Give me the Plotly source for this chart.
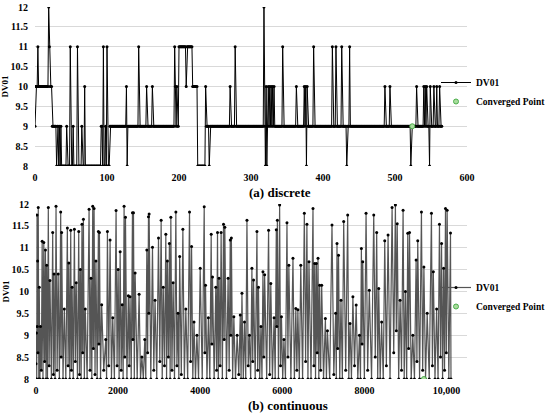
import plotly.graph_objects as go

# (a) discrete: DV01 per iteration, stored as runs (value, run length)
disc_vals = [9, 10, 11, 10, 12, 11, 10, 9,
             8, 9, 8, 9, 8, 9, 8, 9, 8, 11,
             8, 9, 8, 11, 8, 9, 8, 10, 8,
             9, 8, 11, 8, 9, 8, 11, 8,
             9, 10, 8, 9, 11, 9, 10, 9, 10, 9,
             11, 10, 9, 10, 9, 11, 10, 11, 10, 8,
             10, 9, 8, 9, 10, 9, 11, 9,
             12, 9, 8, 10, 8, 9, 10, 9, 10, 9, 10, 9, 10, 9, 10,
             9, 11, 9, 10, 9, 10, 9, 10, 8, 10, 9,
             11, 9, 11, 9, 11, 9, 11, 9, 8, 9, 11,
             9, 10, 9, 10, 9, 8, 9, 10, 9,
             10, 9, 10, 9, 10, 9, 8, 10, 9, 10, 9, 10, 9, 10, 9]
disc_lens = [1, 3, 1, 14, 1, 1, 3, 6,
             1, 2, 1, 1, 1, 1, 7, 1, 4, 1,
             3, 1, 5, 1, 5, 1, 3, 1, 22,
             2, 1, 1, 2, 1, 1, 1, 3,
             23, 1, 1, 15, 1, 10, 1, 7, 1, 30,
             1, 1, 1, 1, 2, 10, 1, 8, 7, 11,
             1, 4, 1, 28, 1, 6, 1, 39,
             1, 1, 1, 1, 1, 1, 1, 1, 1, 1, 1, 1, 1, 1, 1,
             11, 1, 18, 1, 10, 1, 1, 1, 1, 1, 8,
             1, 25, 1, 4, 1, 7, 1, 6, 1, 3, 1,
             48, 1, 6, 1, 28, 1, 7, 1, 9,
             1, 1, 1, 1, 1, 3, 1, 1, 4, 1, 3, 1, 3, 1, 3]
disc_conv_x = [524]
disc_conv_y = [9]

# (b) continuous: DV01 over ~10,000 iterations (peaks and troughs)
cont_x = [0, 10, 18, 25, 32, 40, 48, 55, 68, 80,
          95, 110, 130, 150, 170, 190, 210, 230, 245, 260,
          280, 300, 320, 340, 375, 407, 425, 440, 465, 488,
          515, 540, 570, 602, 612, 625, 658, 690, 727, 764,
          782, 800, 823, 846, 863, 880, 908, 935, 958, 980,
          1010, 1041, 1060, 1080, 1100, 1120, 1138, 1155, 1178, 1200,
          1246, 1293, 1316, 1340, 1360, 1382, 1398, 1415, 1438, 1460,
          1490, 1520, 1532, 1545, 1572, 1600, 1650, 1700, 1720, 1740,
          1772, 1805, 1838, 1870, 1910, 1951, 1975, 2000, 2025, 2050,
          2075, 2100, 2123, 2146, 2163, 2180, 2215, 2250, 2270, 2290,
          2320, 2350, 2362, 2375, 2395, 2415, 2465, 2512, 2546, 2580,
          2615, 2650, 2675, 2700, 2720, 2740, 2748, 2756, 2797, 2838,
          2870, 2900, 2942, 2984, 3016, 3049, 3075, 3100, 3130, 3163,
          3181, 3200, 3225, 3250, 3268, 3285, 3312, 3340, 3374, 3407,
          3433, 3460, 3480, 3500, 3540, 3578, 3614, 3650, 3695, 3740,
          3765, 3790, 3820, 3850, 3885, 3920, 3960, 4000, 4050, 4098,
          4114, 4130, 4165, 4200, 4234, 4268, 4284, 4300, 4340, 4380,
          4400, 4422, 4441, 4460, 4485, 4510, 4540, 4568, 4584, 4600,
          4640, 4680, 4706, 4732, 4746, 4760, 4790, 4820, 4860, 4900,
          4940, 4976, 4996, 5017, 5050, 5080, 5110, 5139, 5170, 5200,
          5230, 5260, 5280, 5300, 5340, 5383, 5400, 5420, 5450, 5480,
          5505, 5529, 5550, 5570, 5620, 5666, 5693, 5720, 5760, 5800,
          5827, 5854, 5867, 5880, 5907, 5935, 5957, 5980, 6010, 6040,
          6077, 6114, 6137, 6160, 6210, 6260, 6295, 6330, 6355, 6380,
          6415, 6450, 6495, 6537, 6568, 6600, 6625, 6650, 6700, 6748,
          6770, 6790, 6810, 6830, 6850, 6870, 6890, 6910, 6935, 6960,
          7005, 7050, 7075, 7100, 7155, 7211, 7255, 7300, 7316, 7333,
          7350, 7370, 7400, 7430, 7463, 7496, 7545, 7593, 7620, 7650,
          7685, 7720, 7760, 7800, 7840, 7880, 7905, 7927, 7943, 7960,
          8000, 8041, 8080, 8120, 8175, 8228, 8265, 8300, 8325, 8350,
          8385, 8420, 8460, 8496, 8536, 8577, 8625, 8675, 8715, 8756,
          8778, 8800, 8835, 8870, 8905, 8943, 8970, 9000, 9030, 9057,
          9078, 9100, 9140, 9180, 9220, 9260, 9280, 9300, 9345, 9390,
          9420, 9450, 9490, 9530, 9580, 9634, 9657, 9680, 9720, 9760,
          9795, 9829, 9855, 9880, 9905, 9930, 9953, 9976, 9996, 10016,
          10057, 10098, 10110]
cont_y = [8.35, 9.05, 8.0, 11.75, 9.2, 10.7, 8.6, 11.92, 8.0, 10.1,
          8.0, 9.2, 8.2, 11.15, 8.0, 11.12, 8.4, 10.95, 8.0, 10.6,
          8.0, 11.92, 8.3, 10.25, 8.0, 11.35, 8.1, 10.4, 8.0, 11.95,
          8.2, 10.4, 8.0, 11.82, 8.5, 11.35, 8.0, 9.6, 8.0, 11.45,
          8.3, 10.65, 8.0, 11.4, 8.2, 10.1, 8.0, 11.42, 8.4, 10.2,
          8.0, 11.37, 8.1, 10.5, 8.0, 11.54, 8.6, 11.65, 8.0, 9.6,
          8.0, 11.88, 8.2, 10.3, 8.0, 11.95, 8.7, 11.9, 8.1, 10.7,
          8.0, 11.37, 8.8, 11.35, 8.0, 9.7, 8.2, 8.9, 8.0, 11.37,
          8.3, 11.18, 8.0, 9.4, 8.0, 11.85, 8.3, 10.5, 8.0, 10.91,
          8.2, 9.7, 8.0, 11.95, 8.5, 11.7, 8.0, 9.9, 8.3, 9.88,
          8.0, 11.8, 8.9, 11.8, 8.0, 10.42, 8.0, 9.94, 8.0, 8.5,
          8.0, 8.9, 8.0, 10.95, 8.6, 11.71, 9.5, 11.77, 8.0, 11.01,
          8.2, 9.8, 8.0, 11.22, 8.4, 11.63, 8.0, 10.1, 8.3, 11.31,
          8.0, 10.7, 8.5, 11.1, 8.0, 11.7, 8.2, 10.2, 8.0, 11.82,
          8.3, 9.5, 8.0, 10.8, 8.1, 11.42, 8.0, 9.6, 8.0, 11.82,
          8.4, 11.03, 8.0, 9.3, 8.0, 9.0, 8.0, 10.53, 8.0, 11.94,
          8.6, 10.14, 8.0, 9.4, 8.0, 11.31, 8.8, 10.33, 8.0, 10.1,
          8.2, 11.35, 8.0, 10.3, 8.3, 11.35, 8.0, 11.54, 8.9, 11.47,
          8.0, 10.3, 8.2, 11.18, 9.0, 11.22, 8.0, 9.42, 8.0, 9.0,
          8.1, 9.46, 8.0, 9.96, 8.0, 9.3, 8.0, 11.63, 8.3, 9.0,
          8.0, 10.53, 8.4, 10.26, 8.0, 11.37, 8.2, 10.1, 8.0, 9.2,
          8.0, 10.45, 8.5, 10.38, 8.0, 11.4, 8.1, 10.18, 8.0, 9.4,
          8.0, 11.41, 9.2, 11.63, 8.0, 11.98, 8.3, 9.42, 8.0, 8.9,
          8.0, 11.57, 8.5, 10.6, 8.0, 10.76, 8.0, 9.61, 8.2, 9.58,
          8.0, 10.6, 8.0, 11.79, 8.4, 11.54, 8.0, 10.68, 8.0, 11.9,
          8.3, 10.64, 8.0, 10.64, 8.6, 10.76, 8.0, 10.14, 8.2, 10.14,
          8.0, 9.38, 8.0, 9.1, 8.0, 11.52, 8.1, 9.5, 8.0, 11.1,
          8.7, 10.83, 8.0, 9.8, 8.0, 11.6, 8.2, 11.75, 8.0, 9.27,
          8.0, 9.88, 8.3, 9.69, 8.0, 9.0, 8.0, 10.98, 8.8, 10.68,
          8.0, 11.79, 8.2, 10.03, 8.0, 11.75, 8.5, 11.35, 8.0, 10.07,
          8.0, 9.3, 8.0, 11.16, 8.3, 11.29, 8.0, 11.92, 8.6, 11.98,
          9.1, 11.55, 8.0, 9.8, 8.2, 11.86, 8.0, 10.0, 8.0, 11.33,
          8.7, 11.35, 8.0, 9.0, 8.0, 10.72, 8.4, 11.16, 8.0, 11.82,
          8.2, 10.56, 8.0, 9.5, 8.0, 11.79, 8.3, 10.45, 8.0, 9.6,
          8.0, 11.54, 8.5, 11.1, 8.0, 10.53, 8.2, 11.9, 8.6, 11.86,
          8.0, 11.34, 8.0]
cont_conv_x = [9450]
cont_conv_y = [8]

cont_ticks = [0, 2000, 4000, 6000, 8000, 10000]
cont_ticktext = ["0", "2000", "4000", "6000", "8000", "10,000"]

# expand the runs into one value per iteration
disc_y = []
for v, n in zip(disc_vals, disc_lens):
    disc_y += [v] * n
disc_x = list(range(len(disc_y)))

FONT = "Liberation Serif"
GREEN_FILL = "#a8dc9c"
GREEN_EDGE = "#4cae4c"

fig = go.Figure()

fig.add_trace(go.Scatter(
    x=disc_x, y=disc_y, mode="lines+markers", name="DV01",
    line=dict(color="black", width=1), marker=dict(color="black", size=3),
    xaxis="x", yaxis="y", legend="legend"
))
fig.add_trace(go.Scatter(
    x=disc_conv_x, y=disc_conv_y, mode="markers", name="Converged Point",
    marker=dict(color=GREEN_FILL, size=5, line=dict(color=GREEN_EDGE, width=1)),
    xaxis="x", yaxis="y", legend="legend"
))
fig.add_trace(go.Scatter(
    x=cont_x, y=cont_y, mode="lines+markers", name="DV01",
    line=dict(color="#555555", width=1.2), marker=dict(color="black", size=3),
    xaxis="x2", yaxis="y2", legend="legend2"
))
fig.add_trace(go.Scatter(
    x=cont_conv_x, y=cont_conv_y, mode="markers", name="Converged Point",
    marker=dict(color=GREEN_FILL, size=5, line=dict(color=GREEN_EDGE, width=1)),
    xaxis="x2", yaxis="y2", legend="legend2"
))

tick_font = dict(family=FONT, size=10, color="black", weight="bold")
legend_font = dict(family=FONT, size=9.5, color="black", weight="bold")
grid = "#d9d9d9"

yax = dict(
    range=[8, 12], dtick=0.5, showgrid=True, gridcolor=grid, zeroline=False,
    showline=False, tickfont=tick_font, ticklabelstandoff=6, automargin=False,
    title=dict(text="DV01", font=dict(family=FONT, size=9, color="black", weight="bold"), standoff=0),
)
xax = dict(showgrid=False, zeroline=False, showline=False, tickfont=tick_font,
           ticklabelstandoff=4, automargin=False)

fig.update_layout(
    width=550, height=415,
    margin=dict(l=0, r=0, t=0, b=0, autoexpand=False),
    plot_bgcolor="white", paper_bgcolor="white",
    xaxis=dict(domain=[35 / 550, 467 / 550], range=[0, 600], dtick=100, anchor="y", **xax),
    yaxis=dict(domain=[1 - 166 / 415, 1 - 7 / 415], anchor="x", **yax),
    xaxis2=dict(domain=[36 / 550, 467 / 550], range=[0, 10500],
                tickvals=cont_ticks, ticktext=cont_ticktext, anchor="y2", **xax),
    yaxis2=dict(domain=[1 - 379 / 415, 1 - 204 / 415], anchor="x2", **yax),
    legend=dict(x=436 / 550, y=1 - 92 / 415, xanchor="left", yanchor="middle",
                bgcolor="rgba(0,0,0,0)", itemwidth=30, font=legend_font),
    legend2=dict(x=436 / 550, y=1 - 297 / 415, xanchor="left", yanchor="middle",
                 bgcolor="rgba(0,0,0,0)", itemwidth=30, font=legend_font),
    annotations=[
        dict(text="(a) discrete", x=280 / 550, y=1 - 193 / 415, xref="paper", yref="paper",
             xanchor="center", yanchor="middle", showarrow=False,
             font=dict(family=FONT, size=13, color="black", weight="bold")),
        dict(text="(b) continuous", x=288 / 550, y=1 - 405 / 415, xref="paper", yref="paper",
             xanchor="center", yanchor="middle", showarrow=False,
             font=dict(family=FONT, size=13, color="black", weight="bold")),
    ],
)

# the page's default 8px body margin would push the figure off the window
fig.write_html("out.html", config={"displayModeBar": False},
               post_script="document.body.style.margin = '0';")
